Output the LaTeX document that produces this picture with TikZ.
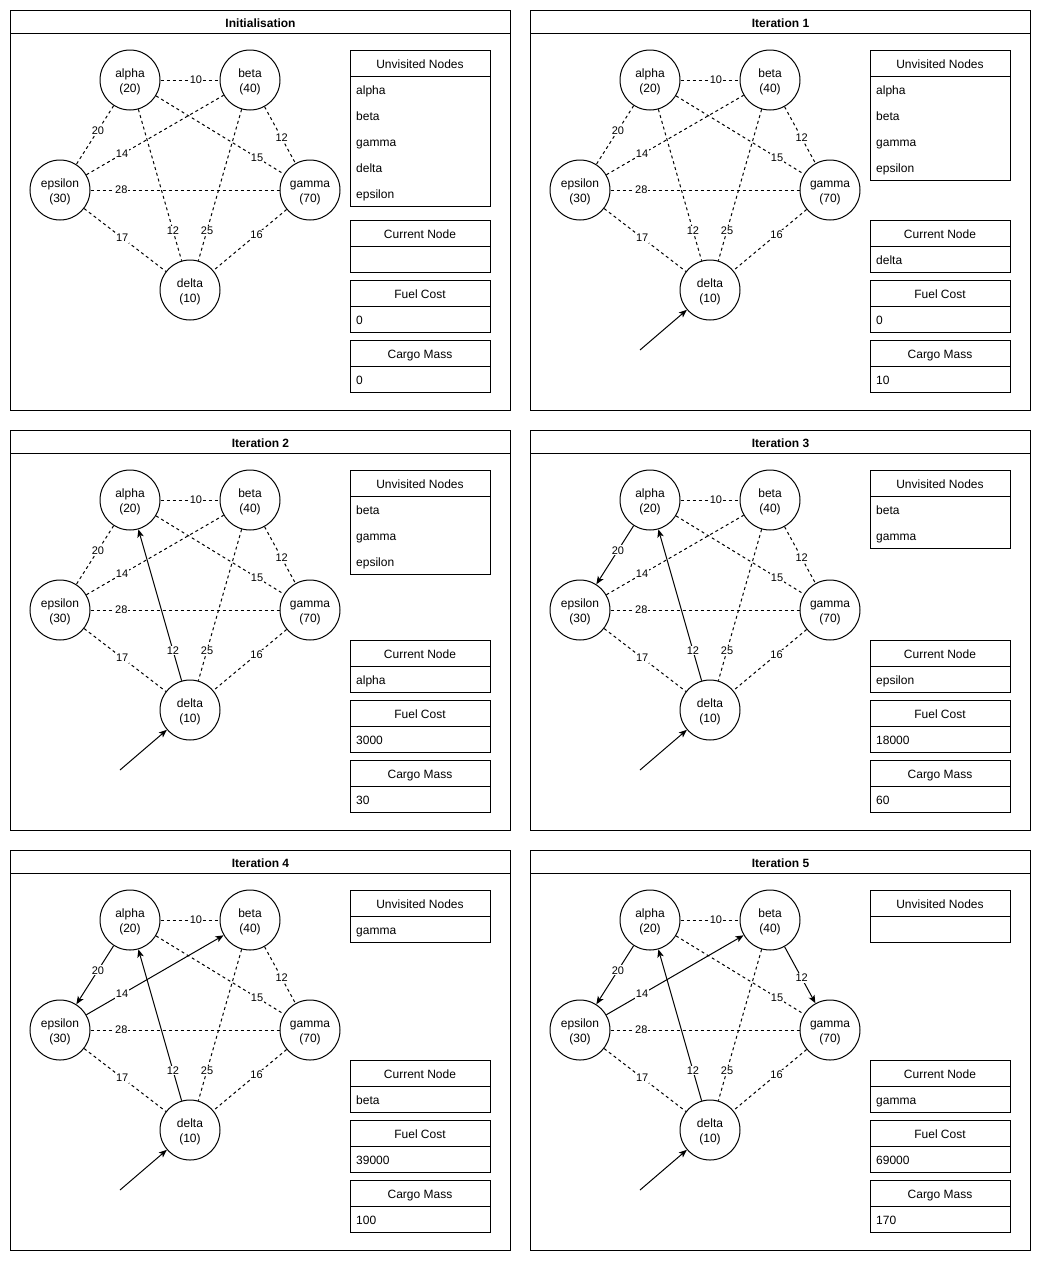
\documentclass[tikz,border=0pt]{standalone}
\usepackage{fontspec}
\setmainfont{Liberation Sans}
\usetikzlibrary{arrows.meta}

\tikzset{
  >={Stealth[length=8pt,width=6.5pt,inset=2pt]},
  panelbox/.style={draw, line width=1pt, minimum width=500pt, minimum height=400pt, inner sep=0pt, anchor=north west},
  titlebar/.style={draw, line width=1pt, minimum width=500pt, minimum height=23pt, inner sep=0pt, anchor=north west,
    text height=12pt, text depth=2pt, font=\fontsize{12pt}{14.5pt}\selectfont\bfseries},
  vtx/.style={circle, draw, line width=1pt, fill=white, minimum size=60pt, inner sep=0pt, align=center},
  dashedge/.style={line width=1pt, dash pattern=on 3pt off 3pt},
  arrowedge/.style={line width=1pt, solid},
  lbl/.style={fill=white, inner sep=1pt, font=\fontsize{11pt}{13pt}\selectfont},
  hdr/.style={draw, line width=1pt, minimum width=140pt, minimum height=26pt, inner sep=0pt, text height=12pt, text depth=2pt},
  cell/.style={draw, line width=1pt, minimum width=140pt, inner sep=0pt},
  rowtext/.style={anchor=base west, inner sep=0pt},
}

\newcommand\vtxtext[2]{\rule{0pt}{12pt}#1\\(#2)}
\newcommand\stage{0}
\newcommand\drawpanel[9]{%
\begin{scope}[shift={(#2,#3)}]
  \node[panelbox] (#1box) at (0,0) {};
  \node[titlebar] (#1bar) at (0,0) {#4};
  \node[vtx] (#1A) at (120,70) {\vtxtext{alpha}{20}};
  \node[vtx] (#1B) at (240,70) {\vtxtext{beta}{40}};
  \node[vtx] (#1E) at (50,180) {\vtxtext{epsilon}{30}};
  \node[vtx] (#1G) at (300,180) {\vtxtext{gamma}{70}};
  \node[vtx] (#1D) at (180,280) {\vtxtext{delta}{10}};
  \ifnum\stage>1 \tikzset{eAD/.style={arrowedge,<-}}\else\tikzset{eAD/.style={dashedge}}\fi
  \ifnum\stage>2 \tikzset{eAE/.style={arrowedge,->}}\else\tikzset{eAE/.style={dashedge}}\fi
  \ifnum\stage>3 \tikzset{eEB/.style={arrowedge,->}}\else\tikzset{eEB/.style={dashedge}}\fi
  \ifnum\stage>4 \tikzset{eBG/.style={arrowedge,->}}\else\tikzset{eBG/.style={dashedge}}\fi
  \draw[dashedge] (#1A) -- node[lbl,pos=0.6] (#1la) {10} (#1B);
  \draw[eAE] (#1A) -- node[lbl,pos=0.42] (#1lb) {20} (#1E);
  \draw[eEB] (#1E) -- node[lbl,pos=0.26] (#1lc) {14} (#1B);
  \draw[dashedge] (#1A) -- node[lbl,pos=0.79] (#1ld) {15} (#1G);
  \draw[eBG] (#1B) -- node[lbl,pos=0.555] (#1le) {12} (#1G);
  \draw[dashedge] (#1E) -- node[lbl,pos=0.163] (#1lf) {28} (#1G);
  \draw[dashedge] (#1E) -- node[lbl,pos=0.465] (#1lg) {17} (#1D);
  \draw[eAD] (#1A) -- node[lbl,pos=0.8] (#1lh) {12} (#1D);
  \draw[dashedge] (#1B) -- node[lbl,pos=0.8] (#1li) {25} (#1D);
  \draw[dashedge] (#1G) -- node[lbl,pos=0.41] (#1lj) {16} (#1D);
  \ifnum\stage>0
    \coordinate (#1s) at (110,340);
    \draw[arrowedge,->] (#1s) -- (#1D);
  \fi
  % unvisited table
  \node[hdr] (#1uh) at (410,53) {Unvisited Nodes};
  \pgfmathsetmacro\ubh{max(#6,1)*26}
  \node[cell, minimum height=\ubh pt, anchor=north] (#1ub) at (410,66) {};
  \ifnum#6>0
    \foreach \t [count=\i] in {#5} {
      \node[rowtext] (#1u\i) at (346,{79+26*(\i-1)+5}) {\t};
    }
  \fi
  % current node
  \node[hdr] (#1ch) at (410,223) {Current Node};
  \node[cell, minimum height=26pt] (#1cb) at (410,249) {};
  \node[rowtext] (#1ct) at (346,254) {#7};
  % fuel cost
  \node[hdr] (#1fh) at (410,283) {Fuel Cost};
  \node[cell, minimum height=26pt] (#1fb) at (410,309) {};
  \node[rowtext] (#1ft) at (346,314) {#8};
  % cargo mass
  \node[hdr] (#1mh) at (410,343) {Cargo Mass};
  \node[cell, minimum height=26pt] (#1mb) at (410,369) {};
  \node[rowtext] (#1mt) at (346,374) {#9};
\end{scope}}

\begin{document}
\begin{tikzpicture}[x=1pt, y=-1pt, font=\fontsize{12pt}{14.5pt}\selectfont]
  \fill[white] (0,0) rectangle (1041,1261);
  \useasboundingbox (0,0) rectangle (1041,1261);
  \renewcommand\stage{0}
  \drawpanel{p}{10}{10}{Initialisation}{alpha,beta,gamma,delta,epsilon}{5}{}{0}{0}
  \renewcommand\stage{1}
  \drawpanel{q}{530}{10}{Iteration 1}{alpha,beta,gamma,epsilon}{4}{delta}{0}{10}
  \renewcommand\stage{2}
  \drawpanel{r}{10}{430}{Iteration 2}{beta,gamma,epsilon}{3}{alpha}{3000}{30}
  \renewcommand\stage{3}
  \drawpanel{s}{530}{430}{Iteration 3}{beta,gamma}{2}{epsilon}{18000}{60}
  \renewcommand\stage{4}
  \drawpanel{t}{10}{850}{Iteration 4}{gamma}{1}{beta}{39000}{100}
  \renewcommand\stage{5}
  \drawpanel{u}{530}{850}{Iteration 5}{}{0}{gamma}{69000}{170}
\end{tikzpicture}
\end{document}
